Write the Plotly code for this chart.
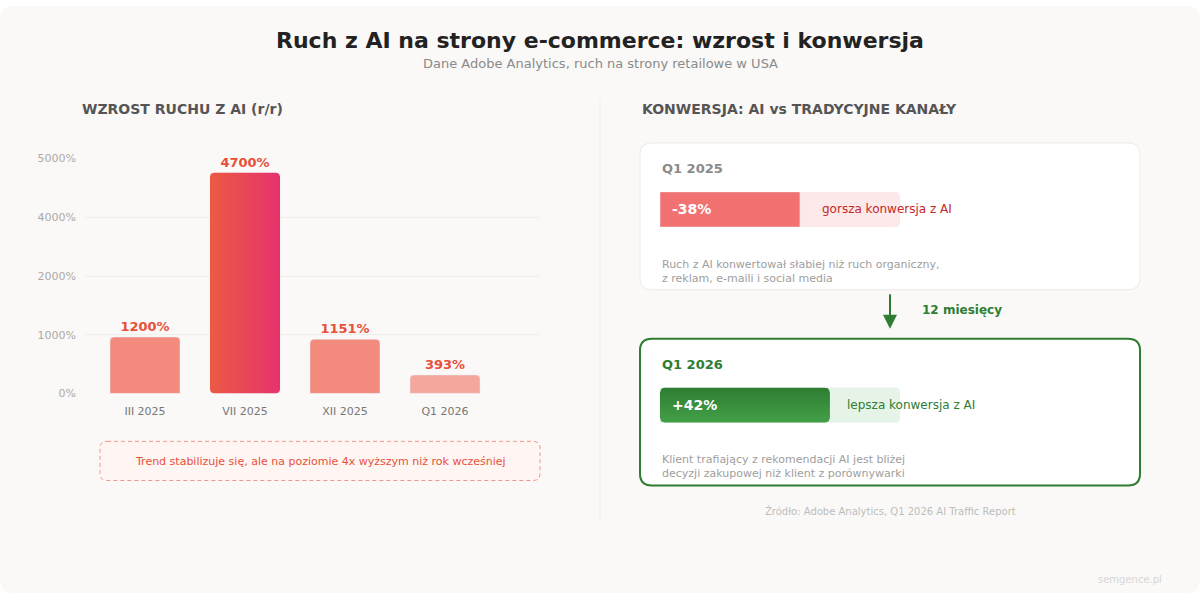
import numpy as np
import plotly.graph_objects as go

W, H = 1200, 600
FONT = "DejaVu Sans"

# --- data ---
months = ["III 2025", "VII 2025", "XII 2025", "Q1 2026"]
growth = [1200, 4700, 1151, 393]
growth_colors = ["#f28b7d", None, "#f28b7d", "#f4a79d"]   # None -> gradient bar
tick_vals = [0, 1250, 2500, 3750, 5000]
tick_text = ["0%", "1000%", "2000%", "4000%", "5000%"]

conv_periods = ["Q1 2025", "Q1 2026"]
conv_values = [-38, 42]
conv_fill = [0.583, 0.708]
conv_labels = ["gorsza konwersja z AI", "lepsza konwersja z AI"]
conv_notes = [
    "Ruch z AI konwertował słabiej niż ruch organiczny,<br>z reklam, e-maili i social media",
    "Klient trafiający z rekomendacji AI jest bliżej<br>decyzji zakupowej niż klient z porównywarki",
]


def px(x):
    return x / W


def py(y):
    return 1 - y / H


def rrect_path(x0, y0, x1, y1, r):
    # rounded rect in pixel coords -> paper path
    X = lambda v: f"{px(v):.5f}"
    Y = lambda v: f"{py(v):.5f}"
    return (f"M{X(x0 + r)},{Y(y0)} L{X(x1 - r)},{Y(y0)} Q{X(x1)},{Y(y0)} {X(x1)},{Y(y0 + r)} "
            f"L{X(x1)},{Y(y1 - r)} Q{X(x1)},{Y(y1)} {X(x1 - r)},{Y(y1)} "
            f"L{X(x0 + r)},{Y(y1)} Q{X(x0)},{Y(y1)} {X(x0)},{Y(y1 - r)} "
            f"L{X(x0)},{Y(y0 + r)} Q{X(x0)},{Y(y0)} {X(x0 + r)},{Y(y0)} Z")


def rounded_poly(x0, x1, y0, y1, rx, ry, n=8):
    # polygon with rounded corners in data units
    xs, ys = [], []
    corners = [(x1 - rx, y1 - ry, 0), (x0 + rx, y1 - ry, 90),
               (x0 + rx, y0 + ry, 180), (x1 - rx, y0 + ry, 270)]
    for cx, cy, a in corners:
        t = np.radians(np.linspace(a, a + 90, n))
        xs += list(cx + rx * np.cos(t))
        ys += list(cy + ry * np.sin(t))
    xs.append(xs[0])
    ys.append(ys[0])
    return xs, ys


fig = go.Figure()

# --- left: growth bars ---
idx = list(range(len(months)))
fig.add_trace(go.Bar(
    x=idx, y=growth, width=0.7,
    marker=dict(color=[c if c else "rgba(0,0,0,0)" for c in growth_colors], cornerradius=4),
    text=[f"{v}%" for v in growth], textposition="outside",
    textfont=dict(family=FONT, size=13, color="#e8503a", weight="bold"),
    cliponaxis=False, hoverinfo="skip", xaxis="x", yaxis="y",
))
for i, (v, c) in enumerate(zip(growth, growth_colors)):
    if c is None:
        bx, by = rounded_poly(i - 0.35, i + 0.35, 0, v, 0.04, 4 * 5000 / 240)
        fig.add_trace(go.Scatter(
            x=bx, y=by, mode="lines", fill="toself", line=dict(width=0),
            fillgradient=dict(type="horizontal", colorscale=[[0, "#ec5a44"], [1, "#e6326c"]]),
            hoverinfo="skip", xaxis="x", yaxis="y",
        ))

# --- right: conversion progress bars ---
ax_ids = [("x2", "y2"), ("x3", "y3")]
for k, (xa, ya) in enumerate(ax_ids):
    track = "#fde8ea" if conv_values[k] < 0 else "#e6f4e8"
    fig.add_trace(go.Bar(x=[1], y=[0], orientation="h", width=1,
                         marker=dict(color=track, cornerradius=5),
                         hoverinfo="skip", xaxis=xa, yaxis=ya))
    if conv_values[k] < 0:
        fig.add_trace(go.Bar(x=[conv_fill[k]], y=[0], orientation="h", width=1,
                             marker=dict(color="#f27272", cornerradius=5),
                             hoverinfo="skip", xaxis=xa, yaxis=ya))
    else:
        gx, gy = rounded_poly(0, conv_fill[k], -0.5, 0.5, 5 / 240, 5 / 36)
        fig.add_trace(go.Scatter(
            x=gx, y=gy, mode="lines", fill="toself", line=dict(width=0),
            fillgradient=dict(type="vertical", colorscale=[[0, "#43a047"], [1, "#2e7d32"]]),
            hoverinfo="skip", xaxis=xa, yaxis=ya,
        ))

# --- shapes ---
shapes = [
    dict(type="path", path=rrect_path(0, 0, W, H, 14), xref="paper", yref="paper",
         fillcolor="#faf9f7", line=dict(width=0), layer="below"),
    dict(type="line", xref="paper", yref="paper", x0=px(600), x1=px(600), y0=py(95), y1=py(527),
         line=dict(color="#efedeb", width=1), layer="below"),
    dict(type="path", path=rrect_path(100, 445, 540, 485, 7), xref="paper", yref="paper",
         fillcolor="#fff5f3", line=dict(color="#f0978c", width=1, dash="4px,3px"), layer="below"),
    dict(type="path", path=rrect_path(640, 140, 1140, 290, 12), xref="paper", yref="paper",
         fillcolor="#ffffff", line=dict(color="#ebebeb", width=1), layer="below"),
    dict(type="path", path=rrect_path(640, 340, 1140, 490, 12), xref="paper", yref="paper",
         fillcolor="#ffffff", line=dict(color="#2e7d32", width=2), layer="below"),
]

# --- texts ---
def ann(x, y, text, size, color, bold=False, xanchor="left", **kw):
    d = dict(x=px(x), y=py(y), xref="paper", yref="paper", text=text, showarrow=False,
             xanchor=xanchor, yanchor="middle",
             font=dict(family=FONT, size=size, color=color, weight="bold" if bold else "normal"))
    d.update(kw)
    return d


annotations = [
    ann(600, 35, "Ruch z AI na strony e-commerce: wzrost i konwersja", 22, "#222222", True, "center"),
    ann(600, 59, "Dane Adobe Analytics, ruch na strony retailowe w USA", 13, "#8a8a8a", False, "center"),
    ann(80, 105, "WZROST RUCHU Z AI (r/r)", 14, "#555555", True),
    ann(640, 105, "KONWERSJA: AI vs TRADYCYJNE KANAŁY", 14, "#555555", True),
    ann(320, 466, "Trend stabilizuje się, ale na poziomie 4x wyższym niż rok wcześniej", 11, "#e8503a",
        False, "center"),
    ann(890, 516, "Źródło: Adobe Analytics, Q1 2026 AI Traffic Report", 10, "#bdbdbd", False, "center"),
    ann(1130, 586, "semgence.pl", 10, "#d6d6d6", False, "center"),
    ann(920, 311, "12 miesięcy", 12, "#2e7d32", True),
    dict(x=px(890), y=py(330), xref="paper", yref="paper", ax=0, ay=-36, showarrow=True,
         arrowhead=2, arrowsize=1.4, arrowwidth=2, arrowcolor="#2e7d32", text=""),
]

card_tops = [140, 340]
for k in range(2):
    top = card_tops[k]
    neg = conv_values[k] < 0
    head_col = "#8a8a8a" if neg else "#2e7d32"
    lab_col = "#c62828" if neg else "#2e7d32"
    xa = ax_ids[k][0]
    annotations.append(ann(660, top + 26, conv_periods[k], 13, head_col, True))
    annotations.append(dict(x=0, y=0, xref=xa, yref=ax_ids[k][1], xshift=10, text=f"{conv_values[k]:+d}%",
                            showarrow=False, xanchor="left", yanchor="middle",
                            font=dict(family=FONT, size=14, color="#ffffff", weight="bold")))
    annotations.append(dict(x=conv_fill[k], y=0, xref=xa, yref=ax_ids[k][1],
                            xshift=20 if neg else 15, text=conv_labels[k],
                            showarrow=False, xanchor="left", yanchor="middle",
                            font=dict(family=FONT, size=12, color=lab_col)))
    annotations.append(ann(660, top + 131, conv_notes[k], 11, "#9e9e9e", False, align="left"))

fig.update_layout(
    width=W, height=H, margin=dict(l=0, r=0, t=0, b=0),
    paper_bgcolor="#ffffff", plot_bgcolor="rgba(0,0,0,0)",
    showlegend=False, barmode="overlay",
    font=dict(family=FONT),
    shapes=shapes, annotations=annotations,
    xaxis=dict(domain=[px(85), px(540)], range=[-0.6, 3.95], tickvals=idx, ticktext=months,
               showgrid=False, zeroline=False, showline=False, ticks="",
               tickfont=dict(family=FONT, size=11, color="#777777"), ticklabelstandoff=10,
               fixedrange=True),
    yaxis=dict(domain=[py(396), py(156)], range=[0, 5000], tickvals=tick_vals, ticktext=tick_text,
               showgrid=True, gridcolor="#f0eeeb", gridwidth=1, zeroline=False, showline=False,
               ticks="", tickfont=dict(family=FONT, size=11, color="#aaaaaa"),
               ticklabelstandoff=8, fixedrange=True),
    xaxis2=dict(domain=[px(660), px(900)], range=[0, 1], visible=False, fixedrange=True),
    yaxis2=dict(domain=[py(226), py(190)], range=[-0.5, 0.5], visible=False, fixedrange=True),
    xaxis3=dict(domain=[px(660), px(900)], range=[0, 1], visible=False, fixedrange=True),
    yaxis3=dict(domain=[py(426), py(390)], range=[-0.5, 0.5], visible=False, fixedrange=True),
)

page_css = ("var s=document.createElement('style');"
            "s.innerHTML='html,body{margin:0;padding:0;overflow:hidden}';"
            "document.head.appendChild(s);")
fig.write_html("out.html", config={"displayModeBar": False}, post_script=page_css)
